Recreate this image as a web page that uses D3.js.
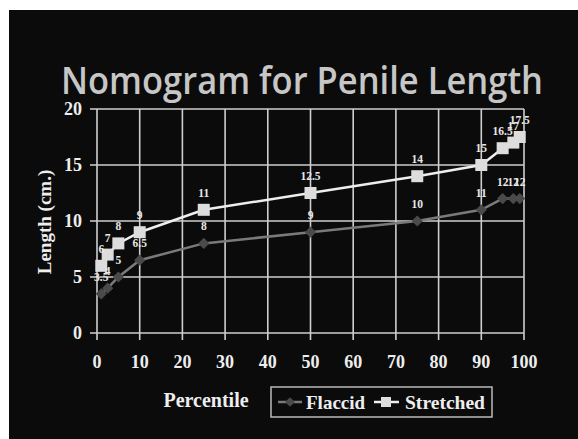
<!DOCTYPE html>
<html><head><meta charset="utf-8">
<script src="https://cdn.jsdelivr.net/npm/d3@7"></script>
<style>html,body{margin:0;padding:0;background:#fff;}svg{display:block;}</style>
</head><body>
<svg id="chart" width="578" height="439"></svg>
<script>
const percentiles = [1, 2.5, 5, 10, 25, 50, 75, 90, 95, 97.5, 99];
const flaccid   = [3.5, 4, 5, 6.5, 8, 9, 10, 11, 12, 12, 12];
const stretched = [6, 7, 8, 9, 11, 12.5, 14, 15, 16.5, 17, 17.5];
const xTicks = [0,10,20,30,40,50,60,70,80,90,100];
const yTicks = [0,5,10,15,20];
const seriesNames = ["Flaccid", "Stretched"];

const svg = d3.select("#chart");
svg.append("rect").attr("x",9).attr("y",10).attr("width",569).attr("height",429).attr("fill","#0b0b0b");

const x = d3.scaleLinear().domain([0,100]).range([97,524]);
const y = d3.scaleLinear().domain([0,20]).range([333,109]);
const serif = "'Liberation Serif','Times New Roman',serif";

// title
svg.append("text").attr("x",302).attr("y",94).attr("text-anchor","middle")
  .attr("font-family","'Open Sans','DejaVu Sans',sans-serif").attr("font-size",37).attr("font-weight",600)
  .attr("textLength",482).attr("lengthAdjust","spacingAndGlyphs")
  .attr("fill","#c6c6c6").text("Nomogram for Penile Length");

// grid
const g = svg.append("g");
g.selectAll(".vg").data(xTicks).join("line")
  .attr("x1",d=>x(d)).attr("x2",d=>x(d)).attr("y1",y(20)).attr("y2",y(0)+7)
  .attr("stroke","#cfcfcf").attr("stroke-width",1.6);
g.selectAll(".hg").data(yTicks).join("line")
  .attr("x1",x(0)-7).attr("x2",x(100)).attr("y1",d=>y(d)).attr("y2",d=>y(d))
  .attr("stroke","#cfcfcf").attr("stroke-width",1.6);

// axis labels
g.selectAll(".xt").data(xTicks).join("text")
  .attr("x",d=>x(d)).attr("y",368).attr("text-anchor","middle")
  .attr("font-family",serif).attr("font-weight","bold").attr("font-size",18)
  .attr("fill","#eeeeee").text(d=>d);
g.selectAll(".yt").data(yTicks).join("text")
  .attr("x",82).attr("y",d=>y(d)+6).attr("text-anchor","end")
  .attr("font-family",serif).attr("font-weight","bold").attr("font-size",18)
  .attr("fill","#eeeeee").text(d=>d);

svg.append("text").attr("transform","translate(51,222) rotate(-90)").attr("text-anchor","middle")
  .attr("font-family",serif).attr("font-weight","bold").attr("font-size",19)
  .attr("fill","#eeeeee").text("Length (cm.)");
svg.append("text").attr("x",206).attr("y",407).attr("text-anchor","middle")
  .attr("font-family",serif).attr("font-weight","bold").attr("font-size",20)
  .attr("fill","#eeeeee").text("Percentile");

const line = d3.line().x(d=>x(d[0])).y(d=>y(d[1]));
const fData = percentiles.map((p,i)=>[p, flaccid[i]]);
const sData = percentiles.map((p,i)=>[p, stretched[i]]);

// flaccid
svg.append("path").datum(fData).attr("d",line).attr("fill","none").attr("stroke","#7a7a7a").attr("stroke-width",2.5);
svg.selectAll(".fm").data(fData).join("path")
  .attr("transform",d=>`translate(${x(d[0])},${y(d[1])})`)
  .attr("d",d3.symbol(d3.symbolDiamond2 || d3.symbolDiamond, 80))
  .attr("fill","#4a4a4a");
// stretched
svg.append("path").datum(sData).attr("d",line).attr("fill","none").attr("stroke","#eeeeee").attr("stroke-width",2.5);
svg.selectAll(".sm").data(sData).join("rect")
  .attr("x",d=>x(d[0])-6).attr("y",d=>y(d[1])-6).attr("width",12).attr("height",12)
  .attr("fill","#dddddd");

// data labels
const lab = (data, cls) => svg.selectAll("."+cls).data(data).join("text")
  .attr("x",d=>x(d[0])).attr("y",d=>y(d[1])-13).attr("text-anchor","middle")
  .attr("font-family",serif).attr("font-weight","bold").attr("font-size",11.5)
  .attr("fill","#e8e8e8").text(d=>d[1]);
lab(fData,"fl");
lab(sData,"sl");

// legend
const lg = svg.append("g");
lg.append("rect").attr("x",271).attr("y",387).attr("width",221).attr("height",30)
  .attr("fill","none").attr("stroke","#bbbbbb").attr("stroke-width",1.5);
lg.append("line").attr("x1",278).attr("x2",302).attr("y1",402).attr("y2",402).attr("stroke","#7a7a7a").attr("stroke-width",2.5);
lg.append("path").attr("transform","translate(290,402)").attr("d",d3.symbol(d3.symbolDiamond2 || d3.symbolDiamond,60)).attr("fill","#4a4a4a");
lg.append("text").attr("x",306).attr("y",409).attr("font-family",serif).attr("font-weight","bold").attr("font-size",19).attr("fill","#eeeeee").text(seriesNames[0]);
lg.append("line").attr("x1",374).attr("x2",399).attr("y1",402).attr("y2",402).attr("stroke","#eeeeee").attr("stroke-width",2.5);
lg.append("rect").attr("x",381).attr("y",397).attr("width",10).attr("height",10).attr("fill","#dddddd");
lg.append("text").attr("x",405).attr("y",409).attr("font-family",serif).attr("font-weight","bold").attr("font-size",19)
  .attr("textLength",80).attr("lengthAdjust","spacingAndGlyphs").attr("fill","#eeeeee").text(seriesNames[1]);
</script>
</body></html>
